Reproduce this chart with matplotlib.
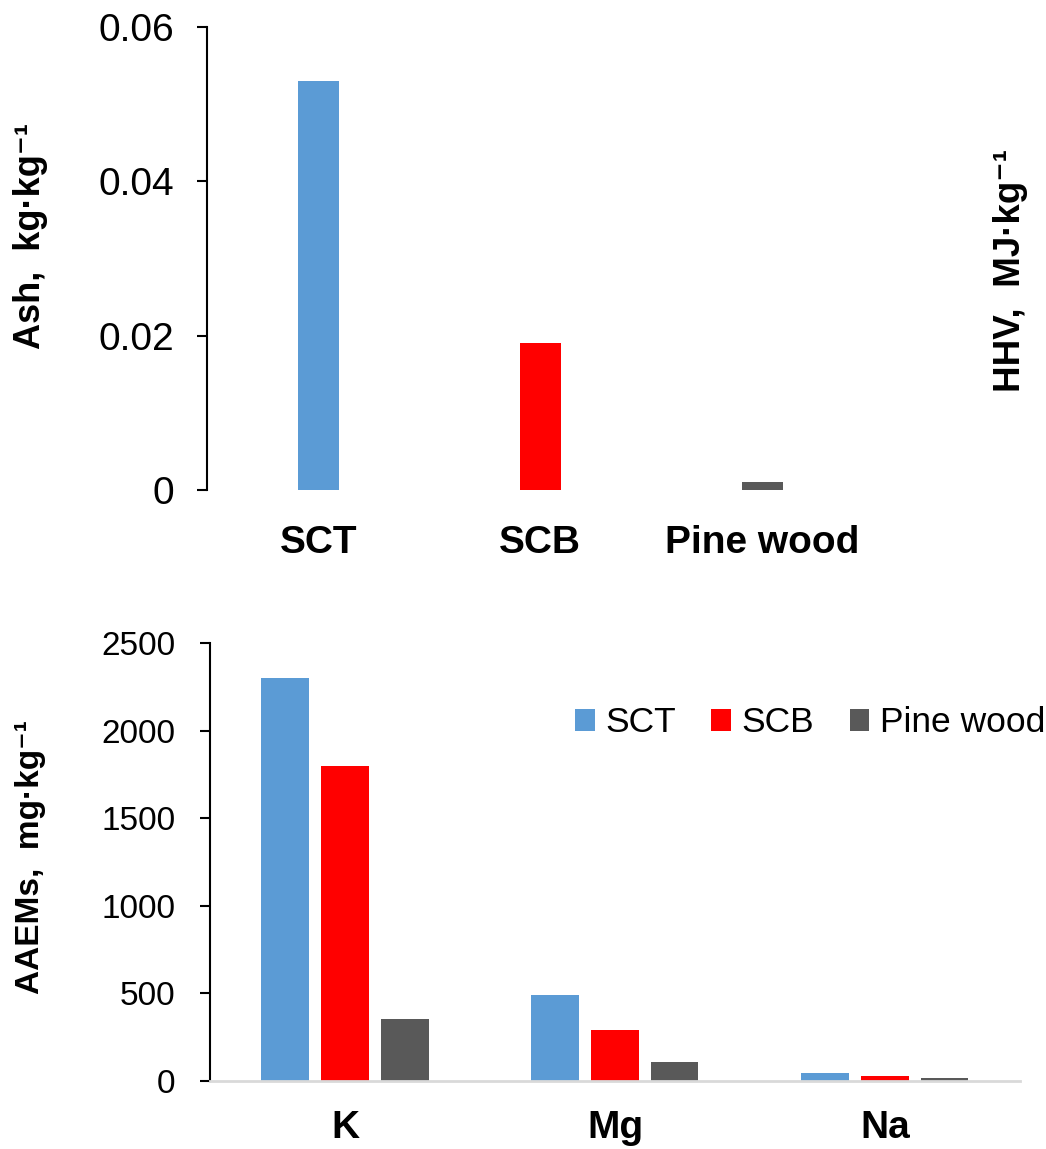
import numpy as np
import matplotlib
matplotlib.use("Agg")
import matplotlib.pyplot as plt

plt.rcParams['font.family'] = ['Liberation Sans', 'DejaVu Sans']

# top panel: ash content
fuels = ['SCT', 'SCB', 'Pine wood']
ash = [0.053, 0.019, 0.001]

# bottom panel: alkali and alkaline earth metals
elements = ['K', 'Mg', 'Na']
aaem_sct = [2300, 490, 45]
aaem_scb = [1800, 290, 30]
aaem_pine = [355, 108, 15]

colors = ['#5b9bd5', '#ff0000', '#595959']

fig = plt.figure(figsize=(10.46, 11.49), dpi=100)

# ---- top ----
ax1 = fig.add_axes([0.198, 0.5735, 0.637, 0.403])
x1 = np.arange(len(fuels))
ax1.bar(x1, ash, width=0.185, color=colors)
ax1.set_xlim(-0.5, 2.5)
ax1.set_ylim(0, 0.06)
ax1.set_yticks([0, 0.02, 0.04, 0.06])
ax1.set_yticklabels(['0', '0.02', '0.04', '0.06'])
ax1.set_xticks(x1)
ax1.set_xticklabels(fuels, fontsize=28, fontweight='bold')
ax1.tick_params(axis='x', length=0, pad=25)
ax1.tick_params(axis='y', labelsize=28, length=7, width=1.5, pad=17)
for s in ['top', 'right', 'bottom']:
    ax1.spines[s].set_visible(False)
ax1.spines['left'].set_linewidth(1.5)
fig.text(31 / 1046, 1 - 236 / 1149, 'Ash,  kg·kg⁻¹', rotation=90, fontsize=26,
         fontweight='bold', ha='center', va='center')
fig.text(1010 / 1046, 1 - 270 / 1149, 'HHV,  MJ·kg⁻¹', rotation=90, fontsize=26.5,
         fontweight='bold', ha='center', va='center')

# ---- bottom ----
ax2 = fig.add_axes([0.2008, 0.0592, 0.7742, 0.3812])
x2 = np.arange(len(elements))
off = 0.222
w = 0.175
ax2.bar(x2 - off, aaem_sct, width=w, color=colors[0], label='SCT')
ax2.bar(x2, aaem_scb, width=w, color=colors[1], label='SCB')
ax2.bar(x2 + off, aaem_pine, width=w, color=colors[2], label='Pine wood')
ax2.set_xlim(-0.5, 2.5)
ax2.set_ylim(0, 2500)
ax2.set_yticks(np.arange(0, 2501, 500))
ax2.set_xticks(x2)
ax2.set_xticklabels(elements, fontsize=28, fontweight='bold')
ax2.tick_params(axis='x', length=0, pad=21)
ax2.tick_params(axis='y', labelsize=24, length=7, width=1.5, pad=18)
for s in ['top', 'right']:
    ax2.spines[s].set_visible(False)
ax2.spines['left'].set_linewidth(1.5)
ax2.spines['bottom'].set_color('#d9d9d9')
ax2.spines['bottom'].set_linewidth(2)
fig.text(31 / 1046, 1 - 857 / 1149, 'AAEMs,  mg·kg⁻¹', rotation=90, fontsize=24,
         fontweight='bold', ha='center', va='center')

ax2.legend(loc='center right', bbox_to_anchor=(1045 / 1046, 1 - 723 / 1149),
           bbox_transform=fig.transFigure, ncol=3, frameon=False, fontsize=25.5,
           handlelength=0.55, handleheight=0.55, handletextpad=0.3,
           columnspacing=1.0, borderpad=0, borderaxespad=0)

fig.savefig('out.png', dpi=100)
